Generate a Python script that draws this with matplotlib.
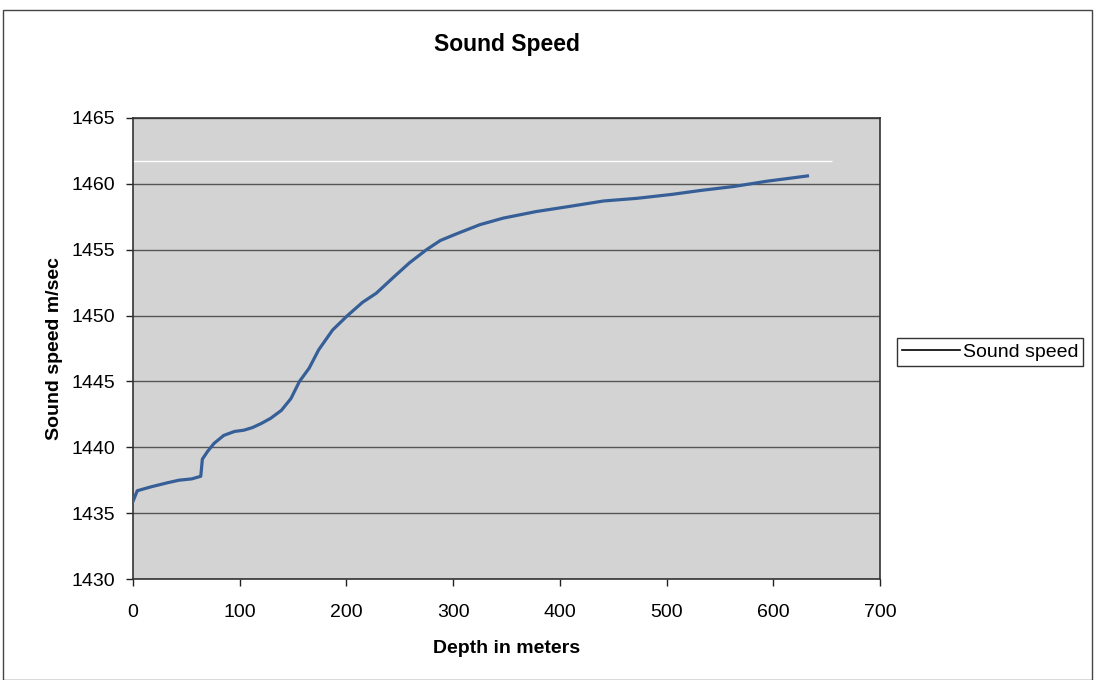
import matplotlib.pyplot as plt
from matplotlib.patches import Rectangle

plt.rcParams['font.family'] = ['Liberation Sans', 'DejaVu Sans']

# depth (m) and sound speed (m/sec)
depth = [0, 4, 17, 32, 43, 55, 63.5, 65, 70, 76, 85, 95, 104, 112, 120, 129, 139,
         148, 156, 165, 174, 187, 201, 215, 228, 244, 259, 275, 288, 303, 325,
         347, 378, 410, 441, 472, 505, 532, 563, 594, 613, 632]
speed = [1435.9, 1436.7, 1437.0, 1437.3, 1437.5, 1437.6, 1437.8, 1439.1, 1439.7,
         1440.3, 1440.9, 1441.2, 1441.3, 1441.5, 1441.8, 1442.2, 1442.8, 1443.7,
         1445.0, 1446.0, 1447.4, 1448.9, 1450.0, 1451.0, 1451.7, 1452.9, 1454.0,
         1455.0, 1455.7, 1456.2, 1456.9, 1457.4, 1457.9, 1458.3, 1458.7, 1458.9,
         1459.2, 1459.5, 1459.8, 1460.2, 1460.4, 1460.6]

x_ticks = [0, 100, 200, 300, 400, 500, 600, 700]
y_ticks = [1430, 1435, 1440, 1445, 1450, 1455, 1460, 1465]

fig = plt.figure(figsize=(10.95, 6.8), dpi=100)
ax = fig.add_axes([133 / 1095, 1 - 579 / 680, 747 / 1095, 461 / 680])
ax.set_facecolor('#d3d3d3')

ax.plot(depth, speed, color='#365f98', linewidth=2.3, label='Sound speed', zorder=3)

ax.set_xlim(0, 700)
ax.set_ylim(1430, 1465)
ax.set_xticks(x_ticks)
ax.set_yticks(y_ticks)
ax.yaxis.grid(True, color='#555555', linewidth=1)
ax.set_axisbelow(True)
# faint white scan streak across the plot area
ax.hlines(1461.75, 0, 655, color='white', linewidth=1, zorder=2)

for s in ax.spines.values():
    s.set_color('#333333')
    s.set_linewidth(1.2)
ax.tick_params(direction='out', length=5, width=1, colors='#222222',
               labelsize=14, labelcolor='black')
ax.tick_params(axis='x', pad=13)
ax.tick_params(axis='y', pad=8)

ax.set_title('Sound Speed', fontsize=16.5, fontweight='bold', pad=48)
ax.set_xlabel('Depth in meters', fontsize=14, fontweight='bold', labelpad=14)
ax.set_ylabel('Sound speed m/sec', fontsize=14, fontweight='bold', labelpad=6)

leg = ax.legend(loc='center left', bbox_to_anchor=(897 / 1095, 1 - 352 / 680),
                bbox_transform=fig.transFigure, frameon=True, fancybox=False,
                edgecolor='black', fontsize=14, handlelength=3,
                handletextpad=0.15, borderpad=0.25, borderaxespad=0)
leg.get_frame().set_linewidth(1)
for h in leg.get_lines():
    h.set_color('black')
    h.set_linewidth(1.2)

fig.patches.append(Rectangle((3 / 1095, 0.0), 1089 / 1095, 1 - 10 / 680,
                             transform=fig.transFigure, fill=False,
                             edgecolor='#444444', linewidth=1))

fig.savefig('out.png', dpi=100)
